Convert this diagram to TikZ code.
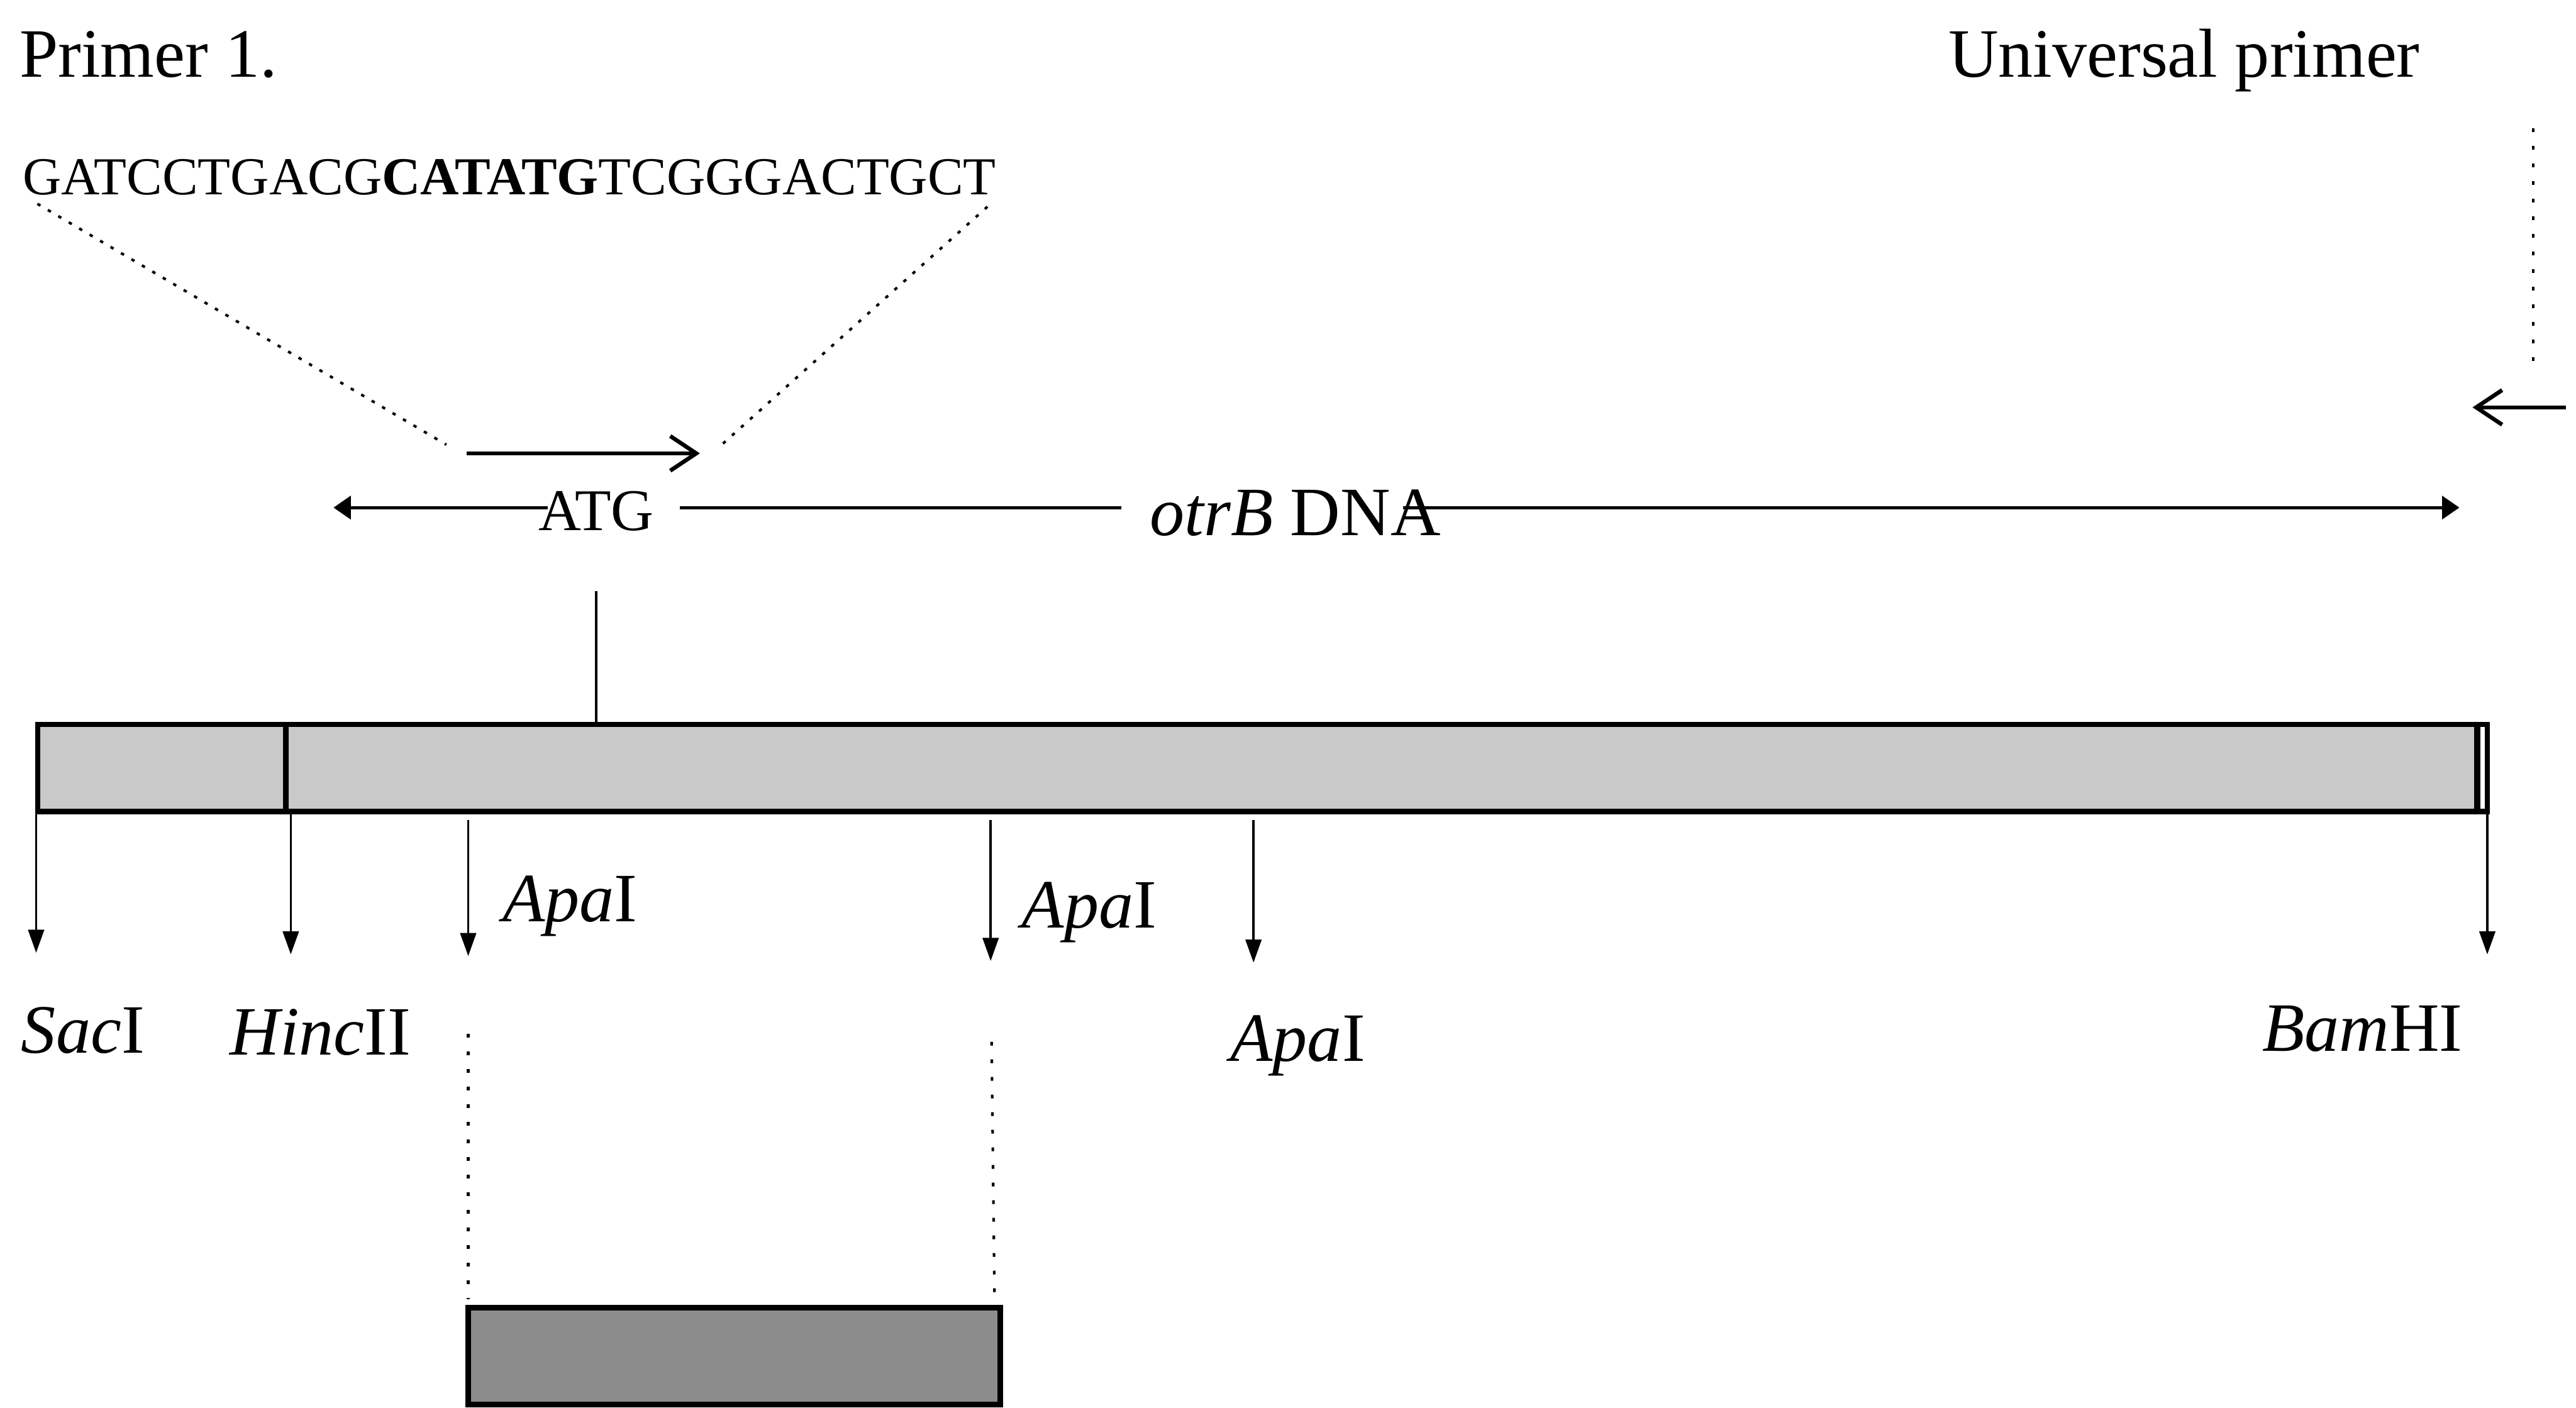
\documentclass[tikz,border=0pt]{standalone}
\usepackage{fontspec}
\setmainfont{Liberation Serif}
\usetikzlibrary{arrows.meta}

\definecolor{barfill}{gray}{0.79}
\definecolor{fragfill}{gray}{0.55}

\begin{document}
\begin{tikzpicture}[x=0.02cm, y=-0.02cm,
    every node/.style = {inner sep=0pt, outer sep=0pt},
    big/.style = {font=\fontsize{24}{28}\selectfont},
    seqtext/.style = {font=\fontsize{18.5}{22}\selectfont},
    codon/.style = {font=\fontsize{20.5}{24}\selectfont},
    segment/.style = {draw, line width=1.9pt, minimum height=1.06cm},
    cut/.style = {line width=0.8pt, -{Triangle[length=8pt,width=5.5pt]}},
    dnaline/.style = {line width=1.1pt},
    primerarrow/.style = {line width=1.4pt, -{Straight Barb[length=9pt,width=12pt]}},
    guide/.style = {line width=0.9pt, dash pattern=on 1.3pt off 4.8pt},
    seqguide/.style = {line width=0.9pt, dash pattern=on 1.2pt off 3pt}]
  \useasboundingbox (0,0) rectangle (1568,857);

  % primers
  \node[big, anchor=base west] (p1label) at (12,47) {Primer 1.};
  \node[big, anchor=base west] (unilabel) at (1186,47) {Universal primer};
  \node[seqtext, anchor=base west] (seq) at (14,118.5)
    {GATCCTGACG\textbf{CATATG}TCGGGACTGCT};

  \coordinate (fwdS) at (284,276);
  \coordinate (fwdE) at (426,276);
  \draw[primerarrow] (fwdS) -- (fwdE);
  \draw[seqguide] ([xshift=5pt,yshift=-3pt]seq.south west) -- ([xshift=-7pt,yshift=3pt]fwdS);
  \draw[seqguide] ([xshift=-3pt,yshift=-4pt]seq.south east) -- ([xshift=7pt,yshift=2.5pt]fwdE);

  \coordinate (revS) at (1562,248);
  \coordinate (revE) at (1505,248);
  \coordinate (unidot) at (1542,78);
  \draw[primerarrow] (revS) -- (revE);
  \draw[guide, shorten >=13pt] (unidot) -- (unidot |- revE);

  % otrB DNA
  \coordinate (dnaL) at (203,309);
  \coordinate (dnaR) at (1497,309);
  \node[codon, anchor=base west] (atg) at (328,323) {ATG};
  \node[big, anchor=base west] (otrb) at (700,326) {\textit{otrB} DNA};
  \draw[dnaline, -{Triangle[length=6pt,width=8pt]}, shorten <=-3pt] (atg.west |- dnaL) -- (dnaL);
  \draw[dnaline, shorten <=9pt, shorten >=10pt] (atg.east |- dnaL) -- (otrb.west |- dnaL);
  \draw[dnaline, -{Triangle[length=6pt,width=8pt]}, shorten <=-13pt] (otrb.east |- dnaL) -- (dnaR);

  % insert in the vector
  \node[segment, fill=barfill, minimum width=3.02cm, anchor=north west] (sacseg) at (23,441) {};
  \node[segment, fill=barfill, minimum width=26.68cm, anchor=north west] (orf) at (174,441) {};
  \node[segment, fill=white, minimum width=0.12cm, anchor=north west] (tail) at (1508,441) {};

  \coordinate (atgtick) at (363,360);
  \draw[line width=0.8pt] (atgtick) -- (atgtick |- orf.north);

  % restriction sites
  \coordinate (sac) at (22,580);
  \coordinate (hinc) at (177,581);
  \coordinate (apa1) at (285,582);
  \coordinate (apa2) at (603,585);
  \coordinate (apa3) at (763,586);
  \coordinate (bam) at (1514,581);

  \draw[cut] (sac |- sacseg.south) -- (sac);
  \draw[cut] (hinc |- orf.south) -- (hinc);
  \draw[cut, shorten <=3pt] (apa1 |- orf.south) -- (apa1);
  \draw[cut, shorten <=3pt] (apa2 |- orf.south) -- (apa2);
  \draw[cut, shorten <=3pt] (apa3 |- orf.south) -- (apa3);
  \draw[cut] (bam |- tail.south) -- (bam);

  \node[big, anchor=base west] (saclab) at (13,641) {\textit{Sac}I};
  \node[big, anchor=base west] (hinclab) at (140,642) {\textit{Hinc}II};
  \node[big, anchor=base west] (apa1lab) at (306,561) {\textit{Apa}I};
  \node[big, anchor=base west] (apa2lab) at (622,565) {\textit{Apa}I};
  \node[big, anchor=base west] (apa3lab) at (749,646) {\textit{Apa}I};
  \node[big, anchor=base west] (bamlab) at (1377,640) {\textit{Bam}HI};

  % ApaI fragment
  \node[segment, fill=fragfill, minimum width=6.48cm, minimum height=1.18cm, anchor=north west] (frag) at (285,796) {};
  \draw[guide, shorten <=27pt, shorten >=3pt] (apa1) -- (frag.north west);
  \draw[guide, shorten <=28pt, shorten >=3pt] (apa2) -- ([xshift=-2pt]frag.north east);
\end{tikzpicture}
\end{document}
